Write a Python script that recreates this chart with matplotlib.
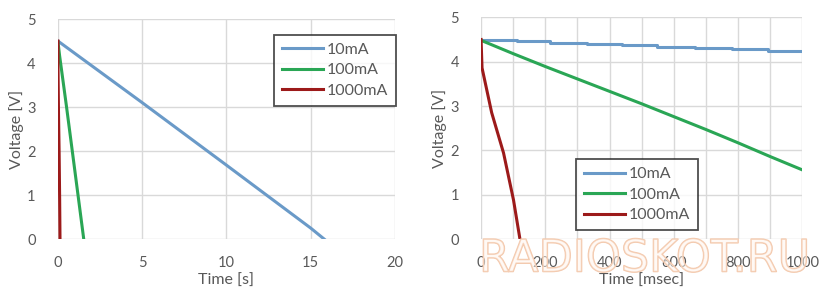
import matplotlib

matplotlib.use("Agg")
import matplotlib.pyplot as plt
import matplotlib.patheffects as pe

plt.rcParams["font.family"] = ["Lato", "DejaVu Sans"]

# left panel, time in seconds
left_t_10 = [0, 5, 10, 15, 15.8]
left_v_10 = [4.5, 3.1, 1.68, 0.25, 0]
left_t_100 = [0, 0.1, 0.5, 1.0, 1.53]
left_v_100 = [4.48, 4.16, 3.03, 1.56, 0]
left_t_1000 = [0, 0.003, 0.033, 0.07, 0.101, 0.121]
left_v_1000 = [4.5, 3.86, 2.85, 1.94, 0.88, 0]

# right panel, time in msec
right_t_10 = [0, 111, 215, 329, 438, 547, 667, 781, 894, 1000]
right_v_10 = [4.49, 4.46, 4.43, 4.40, 4.37, 4.34, 4.31, 4.28, 4.24, 4.24]
right_t_100 = [0, 100, 200, 300, 400, 500, 600, 700, 800, 900, 1000]
right_v_100 = [4.48, 4.18, 3.89, 3.61, 3.33, 3.05, 2.76, 2.47, 2.17, 1.86, 1.56]
right_t_1000 = [0, 3, 33, 70, 101, 121]
right_v_1000 = [4.5, 3.86, 2.85, 1.94, 0.88, 0]

labels = ["10mA", "100mA", "1000mA"]
colors = ["#6A9AC8", "#2AA655", "#9C1A1A"]
grid_color = "#D9D9D9"
text_color = "#595959"


def style_axes(ax, xlim, xticks, xgrid, xlabel):
    ax.set_xlim(*xlim)
    ax.set_ylim(0, 5)
    ax.set_xticks(xgrid, minor=True)
    ax.set_xticks(xticks)
    ax.set_yticks(range(6))
    ax.grid(True, which="both", color=grid_color, lw=1)
    ax.set_axisbelow(True)
    for s in ax.spines.values():
        s.set_visible(False)
    ax.tick_params(which="both", length=0, labelsize=10.5, labelcolor=text_color)
    ax.tick_params(axis="y", pad=16)
    ax.tick_params(axis="x", pad=12)
    ax.set_xlabel(xlabel, fontsize=11.5, color=text_color, labelpad=3)
    ax.set_ylabel("Voltage [V]", fontsize=11.5, color=text_color, labelpad=2)


fig = plt.figure(figsize=(8.28, 2.93), dpi=100)
ax1 = fig.add_axes([0.070, 0.184, 0.407, 0.751])
ax2 = fig.add_axes([0.581, 0.184, 0.388, 0.757])

ax1.plot(left_t_10, left_v_10, color=colors[0], lw=2.2, label=labels[0])
ax1.plot(left_t_100, left_v_100, color=colors[1], lw=2.2, label=labels[1])
ax1.plot(left_t_1000, left_v_1000, color=colors[2], lw=2.2, label=labels[2])
style_axes(ax1, (0, 20), [0, 5, 10, 15, 20], [0, 5, 10, 15, 20], "Time [s]")

ax2.plot(right_t_10, right_v_10, color=colors[0], lw=2.2, label=labels[0], drawstyle="steps-post")
ax2.plot(right_t_100, right_v_100, color=colors[1], lw=2.2, label=labels[1])
ax2.plot(right_t_1000, right_v_1000, color=colors[2], lw=2.2, label=labels[2])
style_axes(ax2, (0, 1000), range(0, 1001, 200), range(0, 1001, 100), "Time [msec]")

for ax, loc in [(ax1, (0.64, 0.605)), (ax2, (0.295, 0.04))]:
    leg = ax.legend(loc="lower left", bbox_to_anchor=loc, fontsize=11.5, frameon=True,
                    fancybox=False, handlelength=2.6, handletextpad=0.2,
                    borderpad=0.5, labelspacing=0.4, borderaxespad=0)
    leg.get_frame().set_edgecolor("#222222")
    leg.get_frame().set_linewidth(1.3)
    for t in leg.get_texts():
        t.set_color(text_color)

wm = fig.text(0.779, 0.116, "RADIOSKOT.RU", fontsize=32, ha="center", va="center",
              color=(1, 0.96, 0.93, 0.3), family="DejaVu Sans", zorder=10)
wm.set_path_effects([pe.Stroke(linewidth=1.1, foreground="#F3C7AA"), pe.Normal()])

fig.savefig("out.png", dpi=100)
